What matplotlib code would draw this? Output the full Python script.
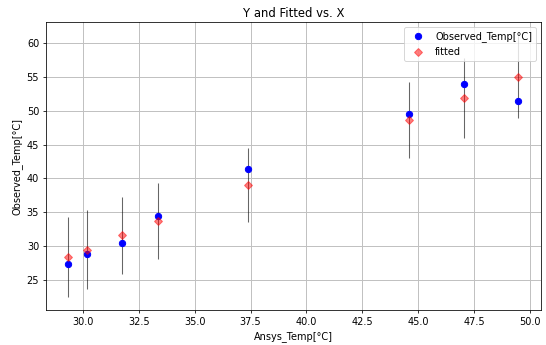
import numpy as np
import matplotlib
matplotlib.use("Agg")
import matplotlib.pyplot as plt

# Ansys temperature (x), observed and fitted temperature, prediction interval
ansys_temp = [29.36, 30.18, 31.75, 33.37, 37.39, 44.6, 47.06, 49.48]
observed = [27.4, 28.9, 30.4, 34.5, 41.4, 49.5, 54.0, 51.5]
fitted = [28.4, 29.5, 31.6, 33.7, 39.05, 48.6, 51.9, 55.0]
iv_low = [22.5, 23.7, 25.9, 28.1, 33.6, 43.0, 46.0, 48.9]
iv_up = [34.3, 35.3, 37.3, 39.4, 44.5, 54.3, 57.8, 61.1]

dpi = 70
fig = plt.figure(figsize=(546 / dpi, 345 / dpi), dpi=dpi)
ax = fig.add_axes([0.0842, 0.1014, 0.9066, 0.8334])

ax.plot(ansys_temp, observed, 'bo', markersize=6.5, label='Observed_Temp[°C]', zorder=3)
ax.plot(ansys_temp, fitted, 'D', color='r', alpha=.5, markersize=6.5, label='fitted', zorder=3)
ax.vlines(ansys_temp, iv_low, iv_up, linewidth=1.1, color='k', alpha=.6, zorder=2)

ax.set_title('Y and Fitted vs. X')
ax.set_xlabel('Ansys_Temp[°C]')
ax.set_ylabel('Observed_Temp[°C]')
ax.grid(True, color='#c0c0c0', linewidth=1)
ax.legend(loc='upper right')

plt.savefig('out.png', dpi=dpi)
